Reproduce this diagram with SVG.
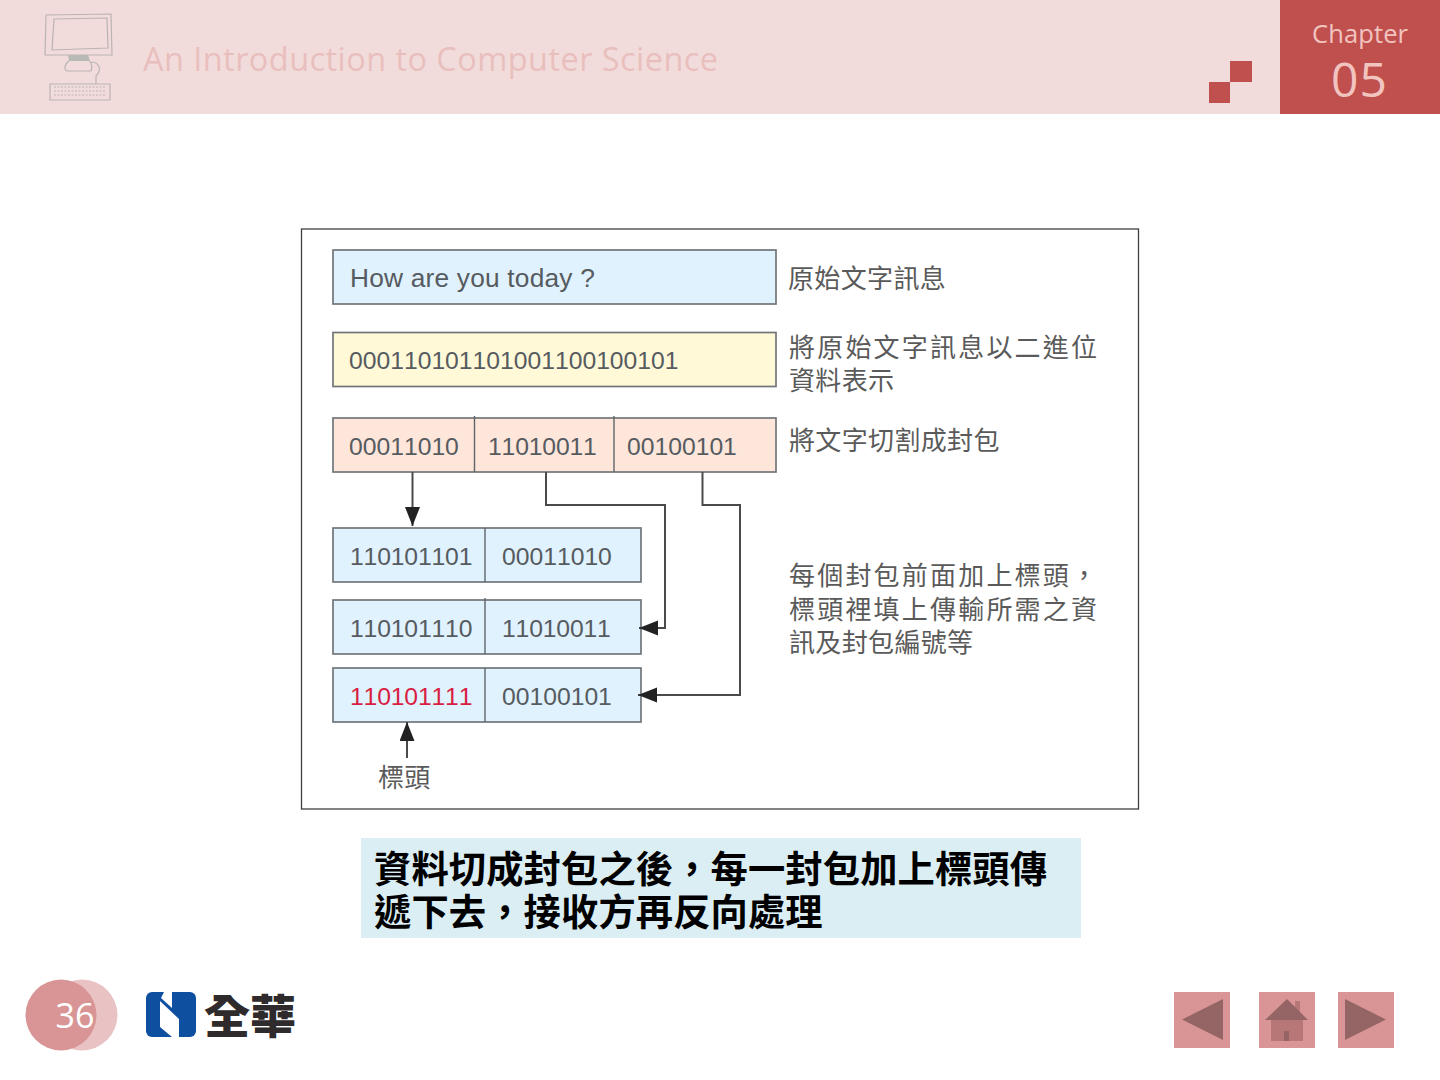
<svg xmlns="http://www.w3.org/2000/svg" width="1440" height="1080" viewBox="0 0 1440 1080">
<style>
.box{stroke:#70767a;stroke-width:1.700}
.div{stroke:#5f6569;stroke-width:1.400;fill:none}
.t{font-family:"Liberation Sans",Arial,sans-serif;font-size:24.700px;fill:#565b60;font-kerning:none}
.n{letter-spacing:-.15px}
.c{font-family:"Noto Sans CJK TC","Liberation Sans",sans-serif;font-size:26px;fill:#5a5a5a;letter-spacing:.35px}
.w{letter-spacing:2.200px}
.b{font-family:"Noto Sans CJK TC","Liberation Sans",sans-serif;font-size:37.300px;font-weight:700;fill:#000;letter-spacing:.1px}
.conn{fill:none;stroke:#4a4a4a;stroke-width:2}
.ic{fill:none;stroke:#b9b4b2;stroke-width:1.200}
</style>
<defs>
<marker id="ah" markerUnits="userSpaceOnUse" markerWidth="20" markerHeight="16" refX="19" refY="7.500" orient="auto"><path d="M0 0L19 7.500L0 15Z" fill="#222"/></marker>
</defs>
<rect width="1440" height="1080" fill="#fff"/>
<g id="header">
<rect width="1440" height="114" fill="#f2dcdb"/>
<rect x="1280" width="160" height="114" fill="#c0504d"/>
<rect x="1209" y="82" width="21" height="21" fill="#c0504d"/>
<rect x="1230" y="61" width="22" height="21" fill="#c0504d"/>
<text x="1312" y="43" font-family="Open Sans,sans-serif" font-size="25.500" fill="#f2c4c0" textLength="96" lengthAdjust="spacing">Chapter</text>
<text x="1331" y="97" font-family="Open Sans,sans-serif" font-size="48" fill="#f2c4c0" textLength="56" lengthAdjust="spacing">05</text>
<text x="143" y="71" font-family="Open Sans,sans-serif" font-size="32.500" fill="#e9bfbe" textLength="575" lengthAdjust="spacing">An Introduction to Computer Science</text>
<g id="computer-icon">
<path class="ic" d="M46 15L111 14L112 55L45 55Z"/>
<path class="ic" d="M54 19L107 18L108 48L52 50Z"/>
<path d="M68 55H88L90 61H69Z" fill="#b8bab5"/>
<path class="ic" d="M69 61C64 64 64 71 67 71H90C93 71 92 62 89 61M90 62C100 62 102 70 96 76V84"/>
<path class="ic" d="M50 84H110V100H50Z"/>
<path class="ic" stroke-dasharray="2 1.500" d="M54 87H106M54 91H106M54 95H106"/>
</g>
</g>
<g id="frame"><rect x="301.500" y="229" width="837" height="580" fill="#fff" stroke="#3f3f3f" stroke-width="1.300"/></g>
<g id="n-text">
<rect class="box" x="333" y="250" width="443" height="54" fill="#e0f2fe"/>
<text class="t" x="350" y="287" style="font-size:26.300px;letter-spacing:.2px">How are you today ?</text>
<text class="c" x="788" y="288">原始文字訊息</text>
</g>
<g id="n-binary">
<rect class="box" x="333" y="332.500" width="443" height="54" fill="#fff9d8"/>
<text class="t" x="349" y="369">000110101101001100100101</text>
<text class="c" x="789" y="357"><tspan class="w">將原始文字訊息以二進位</tspan><tspan x="789" dy="33">資料表示</tspan></text>
</g>
<g id="n-split">
<rect class="box" x="333" y="418" width="443" height="54" fill="#fee6db"/>
<path class="div" d="M474.500 416V472M614 416V472"/>
<text class="t" x="349" y="455">00011010</text>
<text class="t n" x="488" y="455">11010011</text>
<text class="t" x="627" y="455">00100101</text>
<text class="c" x="789" y="450">將文字切割成封包</text>
</g>
<g id="n-pkt1">
<rect class="box" x="333" y="528" width="308" height="54" fill="#e0f2fe"/>
<path class="div" d="M485 528V582"/>
<text class="t n" x="350" y="565">110101101</text>
<text class="t" x="502" y="565">00011010</text>
</g>
<g id="n-pkt2">
<rect class="box" x="333" y="600" width="308" height="54" fill="#e0f2fe"/>
<path class="div" d="M485 598V654"/>
<text class="t n" x="350" y="637">110101110</text>
<text class="t n" x="502" y="637">11010011</text>
</g>
<g id="n-pkt3">
<rect class="box" x="333" y="668" width="308" height="54" fill="#e0f2fe"/>
<path class="div" d="M485 668V722"/>
<text class="t n" x="350" y="705" style="fill:#d81e42">110101111</text>
<text class="t" x="502" y="705">00100101</text>
</g>
<g id="n-note">
<text class="c" x="789" y="585"><tspan class="w">每個封包前面加上標頭，</tspan><tspan class="w" x="789" dy="34">標頭裡填上傳輸所需之資</tspan><tspan x="789" dy="33">訊及封包編號等</tspan></text>
</g>
<g id="connectors">
<path class="conn" d="M412.500 472V526" marker-end="url(#ah)"/>
<path class="conn" d="M546 472V505H665V628H639" marker-end="url(#ah)"/>
<path class="conn" d="M702.500 472V505H741M740 505V695H638" marker-end="url(#ah)"/>
<path class="conn" d="M407 758V722" marker-end="url(#ah)"/>
</g>
<g id="n-header-label"><text class="c" x="378" y="787">標頭</text></g>
<g id="caption">
<rect x="361" y="838" width="720" height="100" fill="#dbeef4"/>
<text class="b" x="374" y="883">資料切成封包之後，每一封包加上標頭傳<tspan x="374" dy="43">遞下去，接收方再反向處理</tspan></text>
</g>
<g id="page">
<circle cx="82" cy="1015" r="35.500" fill="#e9c2c3"/>
<circle cx="61" cy="1015" r="35.500" fill="#d99595"/>
<text x="75" y="1028" text-anchor="middle" font-family="Open Sans,sans-serif" font-size="34" fill="#fff">36</text>
</g>
<g id="logo">
<rect x="146" y="992" width="50" height="45" rx="6" fill="#0f4fa0"/>
<path d="M164 992H172V1008L161 998Z" fill="#fff"/>
<path d="M160 1001L179 1019V1037H172L160 1027Z" fill="#fff"/>
<text x="204" y="1033" font-family="Noto Sans CJK TC,sans-serif" font-size="46" font-weight="900" fill="#2f2a2b" textLength="92" lengthAdjust="spacingAndGlyphs">全華</text>
</g>
<g id="btn-prev">
<rect x="1174" y="992" width="56" height="56" fill="#d99595"/>
<path d="M1182 1019.500L1223 999V1040Z" fill="#956566"/>
</g>
<g id="btn-home">
<rect x="1259" y="992" width="56" height="56" fill="#d99595"/>
<rect x="1295" y="1001" width="5" height="12" fill="#b87777"/>
<rect x="1271" y="1020" width="32" height="21" fill="#b87777"/>
<path d="M1265 1020L1287 999L1308 1020Z" fill="#956566"/>
<rect x="1284" y="1031" width="5" height="10" fill="#956566"/>
</g>
<g id="btn-next">
<rect x="1338" y="992" width="56" height="56" fill="#d99595"/>
<path d="M1386 1019.500L1345 999V1040Z" fill="#956566"/>
</g>
</svg>
